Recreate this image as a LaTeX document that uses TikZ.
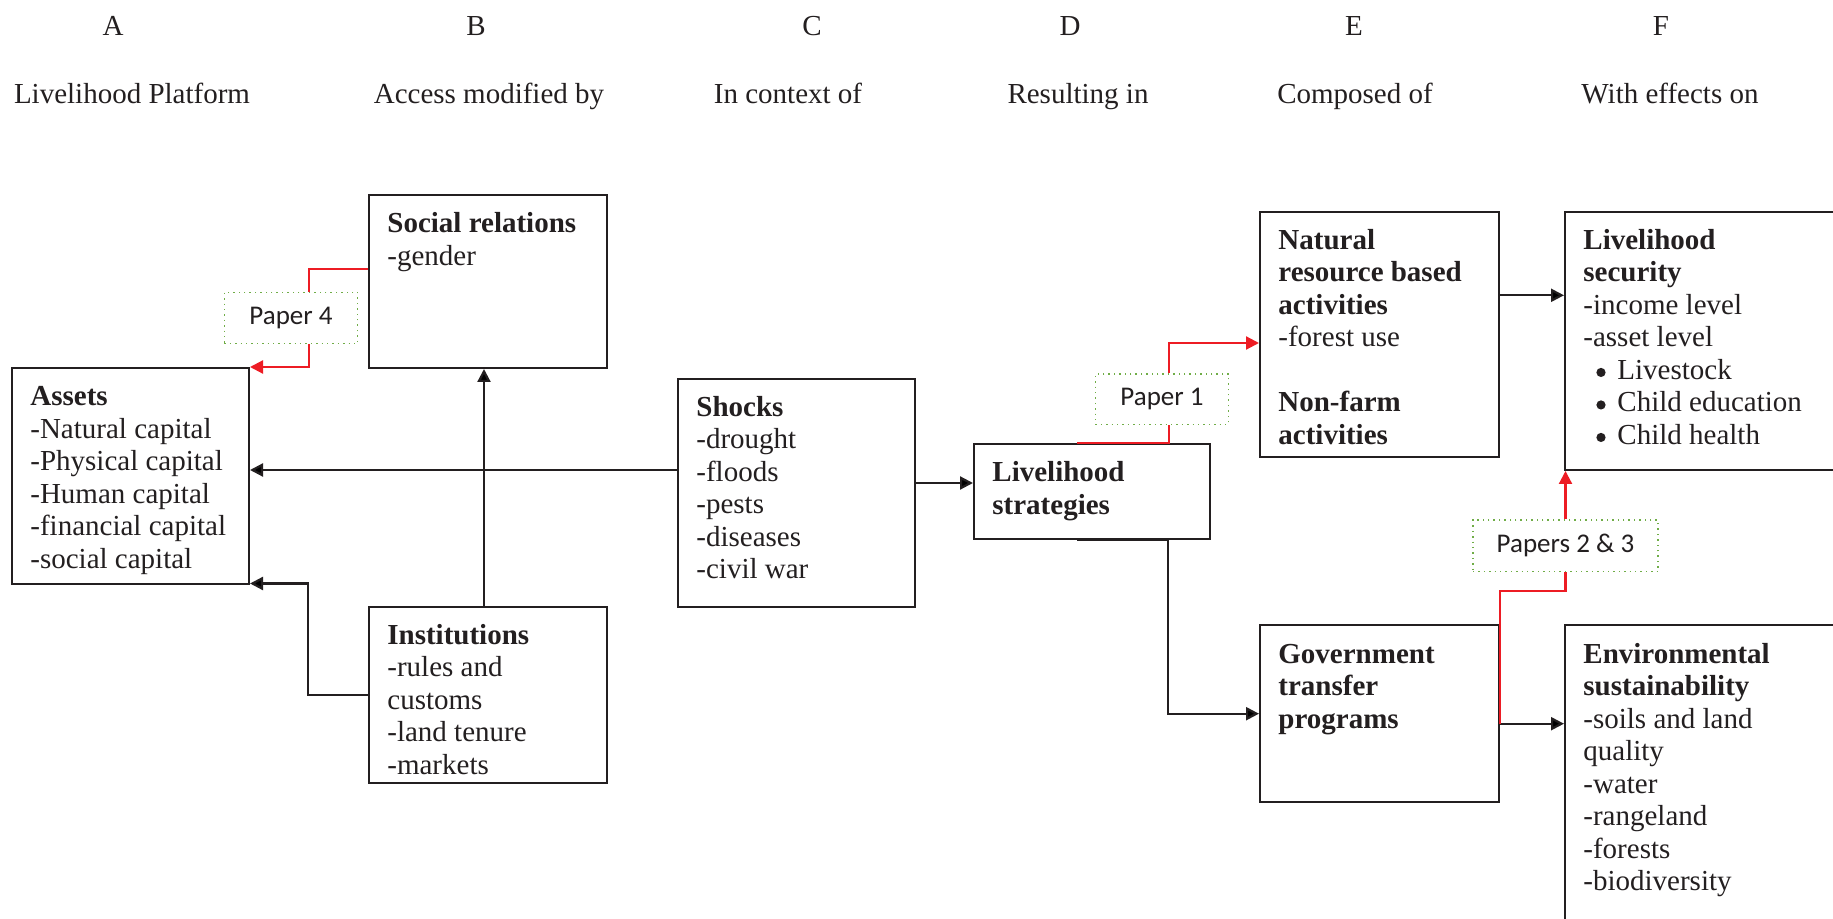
\documentclass[tikz,border=0pt]{standalone}
\usepackage{fontspec}
\setmainfont{Liberation Serif}
\newfontfamily\paperfont{Carlito}
\usetikzlibrary{arrows.meta,calc,fit}
\definecolor{ink}{HTML}{231F20}
\definecolor{myred}{HTML}{ED1C24}
\definecolor{grn}{HTML}{70AD47}
\newcommand{\bul}{\hspace*{6.5pt}\makebox[10.5pt][l]{\tikz[baseline=-3.4pt]\fill[ink] (0,0) circle (2.3pt);}}
\tikzset{
  boxnode/.style={draw=ink, line width=1pt, rectangle, inner sep=0pt},
  txt/.style={anchor=north west, inner sep=0pt, align=left, text=ink,
    font=\fontsize{14.5pt}{16.25pt}\selectfont},
  head/.style={inner sep=0pt, anchor=base, text=ink, font=\fontsize{14.5pt}{16.25pt}\selectfont},
  paperbox/.style={draw=grn, dotted, line width=0.7pt, rectangle, inner sep=0pt},
  papertxt/.style={inner sep=0pt, text=ink, font=\paperfont\fontsize{13.5pt}{16pt}\selectfont},
  arr/.style={draw=ink, line width=1.1pt, -{Triangle[length=6.5pt,width=6.5pt]}},
  blkline/.style={draw=ink, line width=1.1pt},
  redarr/.style={draw=myred, line width=1.1pt, -{Triangle[length=6.5pt,width=6.5pt]}},
  redline/.style={draw=myred, line width=1.1pt}
}
\begin{document}
\begin{tikzpicture}[x=0.5pt,y=-0.5pt]
\useasboundingbox (0,0) rectangle (1833,919);
\clip (0,0) rectangle (1833,919);
\fill[white] (0,0) rectangle (1833,919);

% headers
\node[head] (hA) at (113,35.5) {A};
\node[head] (hB) at (476,35.5) {B};
\node[head] (hC) at (812,35.5) {C};
\node[head] (hD) at (1070,35.5) {D};
\node[head] (hE) at (1354,35.5) {E};
\node[head] (hF) at (1661,35.5) {F};
\node[head] (sA) at (132,103.5) {Livelihood Platform};
\node[head] (sB) at (489,103.5) {Access modified by};
\node[head] (sC) at (788,103.5) {In context of};
\node[head] (sD) at (1078,103.5) {Resulting in};
\node[head] (sE) at (1355,103.5) {Composed of};
\node[head] (sF) at (1670,103.5) {With effects on};

% boxes
\node[boxnode, fit={(369,195) (607,368)}] (sr) {};
\node[boxnode, fit={(12,368) (249,584.5)}] (assets) {};
\node[boxnode, fit={(369,606.7) (607,783)}] (inst) {};
\node[boxnode, fit={(678,378.8) (915,606.7)}] (shocks) {};
\node[boxnode, fit={(974,444.2) (1210,539)}] (ls) {};
\node[boxnode, fit={(1260,211.6) (1499,457)}] (nrb) {};
\node[boxnode, fit={(1565,211.6) (1840,470)}] (livsec) {};
\node[boxnode, fit={(1260,625.4) (1499,802)}] (gov) {};
\node[boxnode, fit={(1565,625.4) (1840,930)}] (env) {};

% paper boxes
\node[paperbox, fit={(224.4,292.3) (357.7,343.7)}] (p4) {};
\node[papertxt] (p4t) at (p4.center) {Paper 4};
\node[paperbox, fit={(1095.4,374) (1228.6,424.3)}] (p1) {};
\node[papertxt] (p1t) at (p1.center) {Paper 1};
\node[paperbox, fit={(1473,520.2) (1658,571.6)}] (p23) {};
\node[papertxt] (p23t) at (p23.center) {Papers 2 \& 3};

% texts
\node[txt] (tsr) at ([shift={(19,15.5)}]sr.north west) {\strut\textbf{Social relations}\\-gender};
\node[txt] (tassets) at ([shift={(19,15.5)}]assets.north west) {\strut\textbf{Assets}\\-Natural capital\\-Physical capital\\-Human capital\\-financial capital\\-social capital};
\node[txt] (tinst) at ([shift={(19,15.5)}]inst.north west) {\strut\textbf{Institutions}\\-rules and\\customs\\-land tenure\\-markets};
\node[txt] (tshocks) at ([shift={(19,15.5)}]shocks.north west) {\strut\textbf{Shocks}\\-drought\\-floods\\-pests\\-diseases\\-civil war};
\node[txt] (tls) at ([shift={(19,15.5)}]ls.north west) {\strut\textbf{Livelihood}\\\textbf{strategies}};
\node[txt] (tnrb) at ([shift={(19,15.5)}]nrb.north west) {\strut\textbf{Natural}\\\textbf{resource based}\\\textbf{activities}\\-forest use\\\strut\\\textbf{Non-farm}\\\textbf{activities}};
\node[txt] (tlivsec) at ([shift={(19,15.5)}]livsec.north west) {\strut\textbf{Livelihood}\\\textbf{security}\\-income level\\-asset level\\\bul Livestock\\\bul Child education\\\bul Child health};
\node[txt] (tgov) at ([shift={(19,15.5)}]gov.north west) {\strut\textbf{Government}\\\textbf{transfer}\\\textbf{programs}};
\node[txt] (tenv) at ([shift={(19,15.5)}]env.north west) {\strut\textbf{Environmental}\\\textbf{sustainability}\\-soils and land\\quality\\-water\\-rangeland\\-forests\\-biodiversity};

% black connectors
\coordinate (sha) at ([shift={(0,-22.75)}]shocks.west);
\draw[arr] (sha) -- (sha -| assets.east);
\coordinate (inup) at ([shift={(-4,0)}]inst.north);
\draw[arr] (inup) -- (inup |- sr.south);
\draw[arr] (inst.west) -- ++(-60,0) |- ([shift={(0,-2)}]assets.south east);
\coordinate (shl) at ([shift={(0,-9.75)}]shocks.east);
\draw[arr] (shl) -- (shl -| ls.west);
\draw[arr] ([shift={(104,0)}]ls.south west) -- ([shift={(195,0)}]ls.south west) |- (gov.west);
\coordinate (nrbo) at ([shift={(0,-39)}]nrb.east);
\draw[arr] (nrbo) -- (nrbo -| livsec.west);
\coordinate (govo) at ([shift={(0,10)}]gov.east);
\draw[arr] (govo) -- (govo -| env.west);

% red connectors
\coordinate (srp) at ([shift={(0,-12.7)}]sr.west);
\draw[redline] (srp) -| ([shift={(18,0)}]p4.north);
\draw[redarr] ([shift={(18,0)}]p4.south) |- (assets.north east);
\draw[redline] ([shift={(104,0)}]ls.north west) -| ([shift={(7,0)}]p1.south);
\draw[redarr] ([shift={(7,0)}]p1.north) |- ([shift={(0,8.7)}]nrb.west);
\draw[redline] (govo) |- ([shift={(0,18.4)}]p23.south) -- (p23.south);
\draw[redarr] (p23.north) -- (p23.north |- livsec.south);
\end{tikzpicture}
\end{document}
